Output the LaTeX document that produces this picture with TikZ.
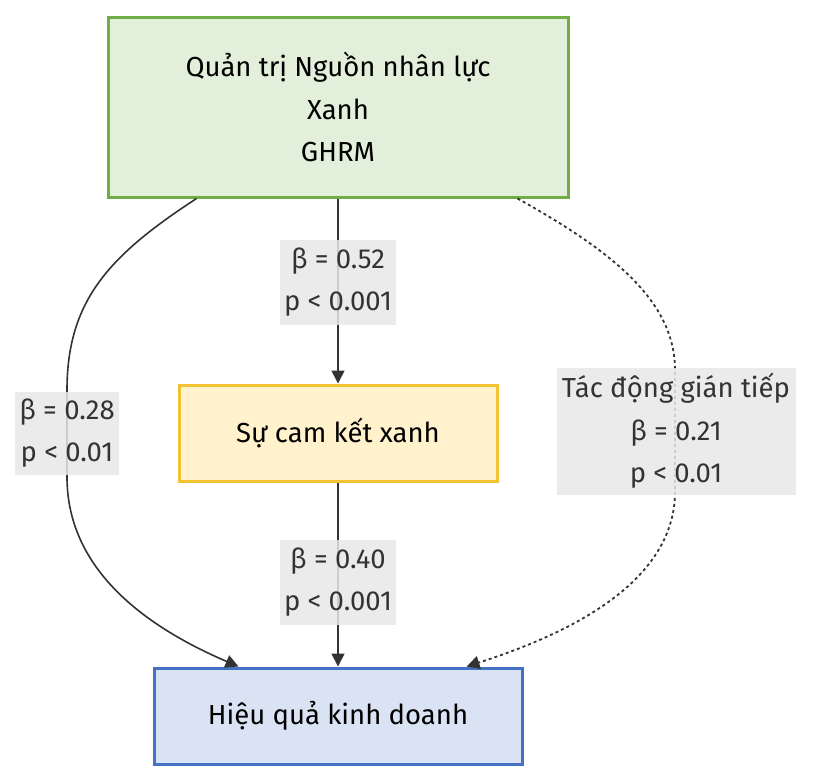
\documentclass[tikz,border=0pt]{standalone}
\usepackage{fontspec}
\setmainfont{Fira Sans}
\usetikzlibrary{arrows.meta}
\definecolor{gfill}{HTML}{E2EFDA}
\definecolor{gdraw}{HTML}{70AD47}
\definecolor{yfill}{HTML}{FFF2CC}
\definecolor{ydraw}{HTML}{F2C232}
\definecolor{bfill}{HTML}{DAE3F3}
\definecolor{bdraw}{HTML}{4472C4}
\definecolor{lgray}{HTML}{E8E8E8}
\definecolor{edgec}{HTML}{333333}
\tikzset{
  box/.style={draw, line width=3pt, inner sep=0pt, align=center, text=black},
  lbl/.style={fill=lgray, fill opacity=0.85, text opacity=1, inner sep=0pt, align=center, text=edgec},
  conn/.style={draw=edgec, line width=1.6pt, -{Triangle[length=13pt,width=13pt]}},
  dotconn/.style={conn, line width=1.8pt, dash pattern=on 3pt off 3pt},
}
\begin{document}
\begin{tikzpicture}[x=1pt,y=-1pt, font=\fontsize{27.5}{42.5}\selectfont]
\useasboundingbox (0,0) rectangle (818,780);
\node[box, fill=gfill, draw=gdraw, minimum width=460pt, minimum height=180pt] (top) at (338,107) {Quản trị Nguồn nhân lực\\Xanh\\GHRM};
\node[box, fill=yfill, draw=ydraw, minimum width=318pt, minimum height=96pt] (mid) at (338,433) {Sự cam kết xanh};
\node[box, fill=bfill, draw=bdraw, minimum width=368pt, minimum height=96pt] (bot) at (338,716) {Hiệu quả kinh doanh};

\coordinate (tl) at ([xshift=90pt]top.south west);
\coordinate (tr) at ([xshift=-52pt]top.south east);
\coordinate (bl) at ([xshift=86pt]bot.north west);
\coordinate (br) at ([xshift=-57pt]bot.north east);
\coordinate (l1) at (67,390);
\coordinate (l2) at (67,477);
\coordinate (r1) at (675,370);
\coordinate (r2) at (675,495);

\draw[conn] (top.south) -- (mid.north);
\draw[conn] (mid.south) -- (bot.north);
\draw[conn] (tl) .. controls (110,255) and (67,300) .. (l1) -- (l2) .. controls (67,560) and (130,620) .. (bl);
\draw[dotconn] (tr) .. controls (610,250) and (675,300) .. (r1) -- (r2) .. controls (672,585) and (565,635) .. (br);

\node[lbl, minimum width=116pt, minimum height=85pt] (e1) at (338,282) {β = 0.52\\p < 0.001};
\node[lbl, minimum width=116pt, minimum height=85pt] (e2) at (338,582) {β = 0.40\\p < 0.001};
\node[lbl, minimum width=104pt, minimum height=83pt] (e3) at (67,433) {β = 0.28\\p < 0.01};
\node[lbl, minimum width=239pt, minimum height=127pt] (e4) at (676,431) {Tác động gián tiếp\\β = 0.21\\p < 0.01};
\end{tikzpicture}
\end{document}
